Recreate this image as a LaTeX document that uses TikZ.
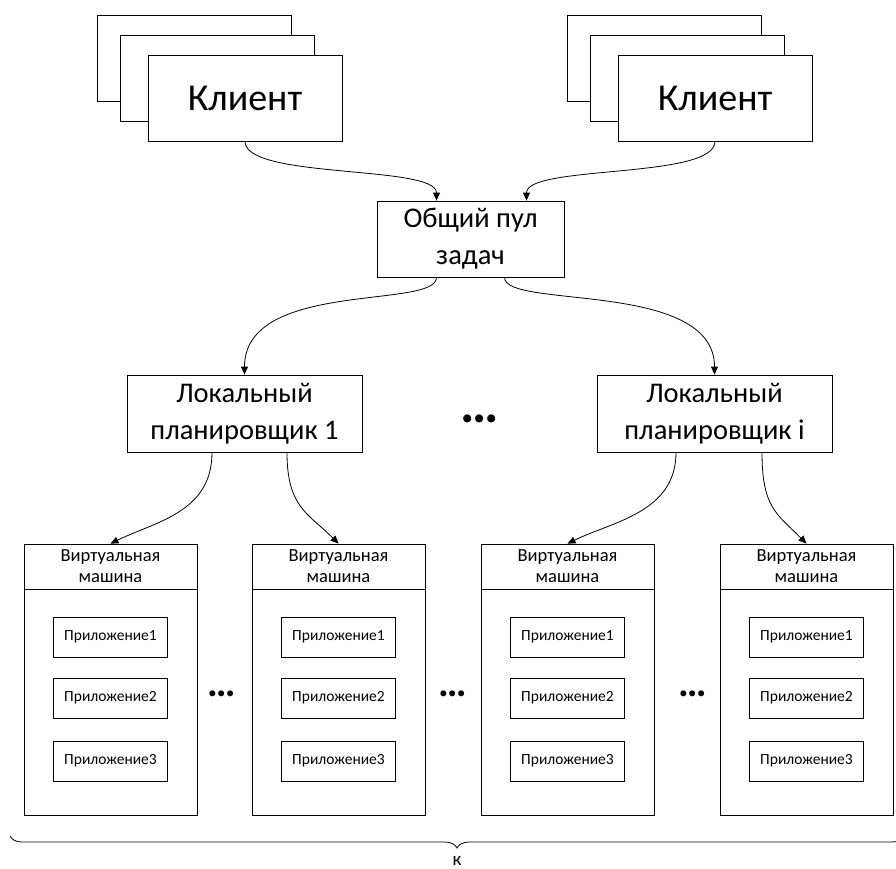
\documentclass[tikz,border=0pt]{standalone}
\usepackage{fontspec}
\setmainfont{Carlito}
\usetikzlibrary{arrows.meta,decorations.pathreplacing}
\begin{document}
\begin{tikzpicture}[x=1pt,y=-1pt,
  box/.style={draw, line width=0.8pt, fill=white, inner sep=0pt, align=center},
  client/.style={box, minimum width=194pt, minimum height=86pt},
  bigtext/.style={font=\fontsize{38}{44}\selectfont},
  midtext/.style={font=\fontsize{28.5}{37}\selectfont},
  hdrtext/.style={font=\fontsize{18.5}{21}\selectfont},
  apptext/.style={font=\fontsize{15.5}{17}\selectfont},
  link/.style={line width=0.8pt, -{Triangle[length=8pt,width=7pt]}},
  dots/.style={font=\fontsize{#1}{#1}\selectfont\bfseries, inner sep=0pt},
]
\useasboundingbox (0,0) rectangle (896,868);

% client stacks
\node[client] (cl3) at (194,58) {};
\node[client] (cl2) at (217.5,78) {};
\node[client, bigtext] (cl1) at (245,98) {Клиент};
\node[client] (cr3) at (664,58) {};
\node[client] (cr2) at (687.5,78) {};
\node[client, bigtext] (cr1) at (715,98) {Клиент};

% shared task pool
\node[box, midtext, minimum width=187pt, minimum height=76pt] (pool) at (470.5,239)
  {\raisebox{-2pt}{Общий пул}\\\raisebox{-2pt}{задач}};

% local schedulers
\node[box, midtext, minimum width=235pt, minimum height=77pt] (loc1) at (244.5,413.5)
  {Локальный\\планировщик 1};
\node[box, midtext, minimum width=235pt, minimum height=77pt] (loci) at (714.5,413.5)
  {Локальный\\планировщик i};
\node[dots=54] (ldots) at (480,419) {…};

% virtual machines with applications
\foreach \i/\x in {1/110.5, 2/338.5, 3/567.5, 4/806.5} {
  \node[box, hdrtext, minimum width=173pt, minimum height=45pt] (vm\i) at (\x,566.5)
    {Виртуальная\\машина};
  \node[box, minimum width=173pt, minimum height=226pt, anchor=north] (vmb\i) at (vm\i.south) {};
  \node[box, apptext, minimum width=114pt, minimum height=40pt] (a\i1) at (\x,637) {Приложение1};
  \node[box, apptext, minimum width=114pt, minimum height=40pt] (a\i2) at (\x,698) {Приложение2};
  \node[box, apptext, minimum width=114pt, minimum height=40pt] (a\i3) at (\x,761) {Приложение3};
}
\node[dots=40] (d1) at (222,694) {…};
\node[dots=40] (d2) at (453,694) {…};
\node[dots=40] (d3) at (693,694) {…};

% connectors
\draw[link] (cl1.south) .. controls +(0,38) and +(0,-36) .. ([xshift=-34pt]pool.north);
\draw[link] (cr1.south) .. controls +(0,38) and +(0,-36) .. ([xshift=56pt]pool.north);
\draw[link] ([xshift=-34pt]pool.south) .. controls +(0,32) and +(0,-95) .. (loc1.north);
\draw[link] ([xshift=34pt]pool.south) .. controls +(0,32) and +(0,-95) .. (loci.north);
\draw[link] ([xshift=-32.5pt]loc1.south) .. controls +(0,60) and +(45,-22) .. (vm1.north);
\draw[link] ([xshift=42.5pt]loc1.south) .. controls +(0,55) and +(-30,-30) .. (vm2.north);
\draw[link] ([xshift=-38.5pt]loci.south) .. controls +(0,60) and +(45,-22) .. (vm3.north);
\draw[link] ([xshift=47.5pt]loci.south) .. controls +(0,55) and +(-30,-30) .. (vm4.north);

% brace over all machines
\coordinate (bl) at (10,836);
\coordinate (br) at (904,836);
\draw[line width=0.8pt, decorate, decoration={brace, mirror, amplitude=12pt}] (bl) -- (br);
\node[font=\fontsize{19}{22}\selectfont, inner sep=0pt, anchor=base] (k) at (457,865) {к};
\end{tikzpicture}
\end{document}
